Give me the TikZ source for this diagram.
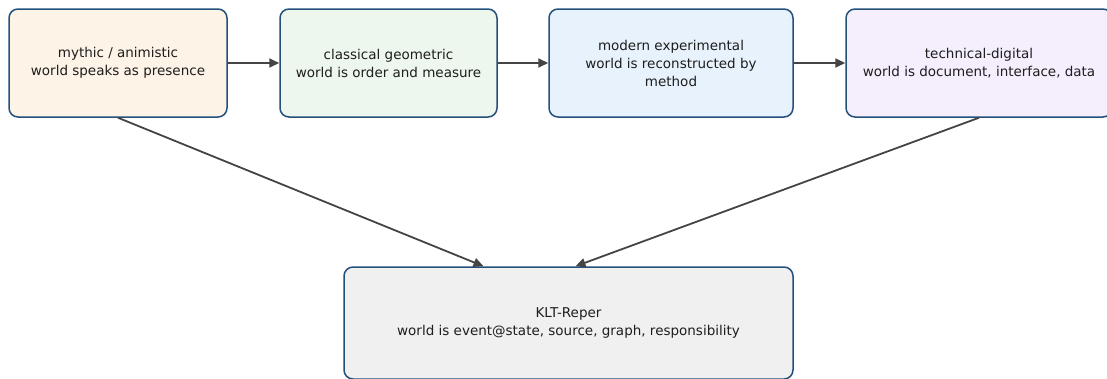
\documentclass[tikz,border=0pt]{standalone}
\usepackage{fontspec}
\setmainfont{DejaVu Sans}
\usepackage{tikz}
\usetikzlibrary{arrows.meta,positioning}

\definecolor{edgeblue}{HTML}{24507C}
\definecolor{arrowgray}{HTML}{444444}
\definecolor{txtgray}{HTML}{1E1E1E}
\definecolor{fillmyth}{HTML}{FDF3E7}
\definecolor{fillgeo}{HTML}{EDF7ED}
\definecolor{fillexp}{HTML}{E8F2FD}
\definecolor{filldig}{HTML}{F5EEFD}
\definecolor{fillklt}{HTML}{F0F0F0}

\begin{document}
\begin{tikzpicture}[x=1pt,y=-1pt]

\tikzset{stage/.style={draw=edgeblue, line width=1.5pt, rounded corners=9pt,
    align=center, text=txtgray, font=\fontsize{13.5}{18}\selectfont,
    minimum height=108pt, inner sep=2pt},
  link/.style={draw=arrowgray, line width=1.8pt, -{Triangle[length=10pt,width=9pt]}}}

\useasboundingbox (0,0) rectangle (1107,378);

% the four stages
\node[stage, fill=fillmyth, minimum width=218pt] (myth) at (118,63)
  {mythic / animistic\\world speaks as presence};
\node[stage, fill=fillgeo, minimum width=217pt] (geo) at (388.5,63)
  {classical geometric\\world is order and measure};
\node[stage, fill=fillexp, minimum width=244pt] (exp) at (671,63)
  {modern experimental\\world is reconstructed by\\method};
\node[stage, fill=filldig, minimum width=266pt] (dig) at (979,63)
  {technical-digital\\world is document, interface, data};

% the frame below
\node[stage, fill=fillklt, minimum width=449pt, minimum height=112pt] (klt) at (568.5,323)
  {KLT-Reper\\world is event@state, source, graph, responsibility};

\draw[link] (myth) -- (geo);
\draw[link] (geo) -- (exp);
\draw[link] (exp) -- (dig);

\draw[link] (myth.south) -- ([xshift=-85pt]klt.north);
\draw[link] (dig.south) -- ([xshift=7pt]klt.north);

\end{tikzpicture}
\end{document}
